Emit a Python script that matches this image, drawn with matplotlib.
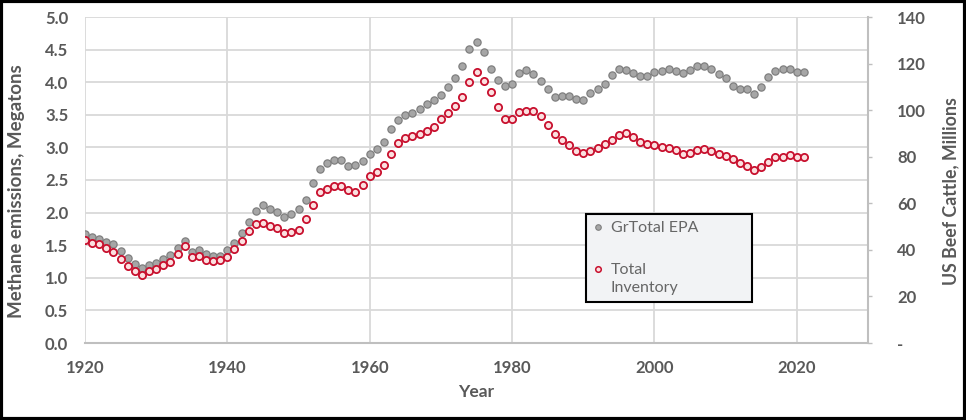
import matplotlib
matplotlib.use("Agg")
import numpy as np
import matplotlib.pyplot as plt
from matplotlib.lines import Line2D
from matplotlib.patches import Rectangle
from matplotlib.ticker import FixedLocator, FixedFormatter
from matplotlib.legend_handler import HandlerLine2D

years = list(range(1920, 2022))

epa_methane = [
    1.67, 1.62, 1.59, 1.55, 1.52, 1.41, 1.30, 1.21, 1.15, 1.19,
    1.22, 1.29, 1.35, 1.45, 1.57, 1.40, 1.42, 1.37, 1.33, 1.33,
    1.42, 1.54, 1.68, 1.86, 2.03, 2.11, 2.05, 2.01, 1.94, 1.98,
    2.06, 2.20, 2.46, 2.67, 2.76, 2.81, 2.81, 2.71, 2.73, 2.79,
    2.90, 2.98, 3.08, 3.28, 3.42, 3.49, 3.52, 3.59, 3.66, 3.72,
    3.80, 3.93, 4.06, 4.25, 4.51, 4.62, 4.46, 4.21, 4.03, 3.94,
    3.98, 4.14, 4.18, 4.12, 4.02, 3.89, 3.78, 3.79, 3.79, 3.74,
    3.73, 3.83, 3.89, 3.97, 4.11, 4.20, 4.18, 4.14, 4.10, 4.10,
    4.16, 4.17, 4.20, 4.17, 4.14, 4.19, 4.25, 4.25, 4.20, 4.12,
    4.07, 3.94, 3.89, 3.89, 3.82, 3.92, 4.08, 4.17, 4.20, 4.21,
    4.15, 4.15,
]

cattle_inventory = [
    44.2, 42.8, 42.5, 40.7, 38.9, 35.9, 33.1, 30.8, 29.3, 30.8,
    31.9, 33.4, 34.9, 38.2, 41.7, 36.8, 37.2, 35.6, 35.1, 35.5,
    37.1, 40.2, 43.9, 48.1, 51.2, 51.7, 50.2, 49.2, 47.1, 47.7,
    48.7, 53.4, 59.3, 64.8, 66.0, 67.3, 67.4, 65.7, 65.0, 67.9,
    71.7, 73.3, 76.4, 81.3, 85.8, 87.9, 88.9, 89.8, 91.2, 92.6,
    96.2, 98.6, 101.9, 105.8, 112.2, 116.5, 112.7, 107.8, 101.4, 96.1,
    96.3, 99.2, 99.8, 99.5, 97.6, 93.8, 89.6, 87.3, 85.0, 82.3,
    81.7, 82.3, 83.7, 85.5, 87.3, 89.2, 90.2, 88.3, 86.5, 85.5,
    85.0, 84.0, 83.6, 82.7, 81.3, 81.7, 82.9, 83.5, 82.5, 81.0,
    80.3, 79.2, 77.4, 76.2, 74.3, 75.4, 77.9, 79.7, 80.0, 80.9,
    79.7, 79.7,
]

x_ticks = [1920, 1940, 1960, 1980, 2000, 2020]
left_ticks = [0.0, 0.5, 1.0, 1.5, 2.0, 2.5, 3.0, 3.5, 4.0, 4.5, 5.0]
right_ticks = [0, 20, 40, 60, 80, 100, 120, 140]
right_labels = ["-", "20", "40", "60", "80", "100", "120", "140"]

TXT = "#595959"
GRID = "#d9d9d9"
FONT = ["Lato", "DejaVu Sans"]

fig = plt.figure(figsize=(9.66, 4.2), dpi=100)
ax = fig.add_axes([85 / 966, 1 - 343 / 420, (868 - 85) / 966, (343 - 17) / 420])

ax.set_xlim(1920, 2030)
ax.set_ylim(0, 5)
ax.xaxis.set_major_locator(FixedLocator(x_ticks))
ax.yaxis.set_major_locator(FixedLocator(left_ticks))
ax.set_yticklabels([f"{v:.1f}" for v in left_ticks])
ax.grid(True, color=GRID, linewidth=1.3)
ax.set_axisbelow(True)
for s in ["top", "right", "left"]:
    ax.spines[s].set_visible(False)
ax.spines["bottom"].set_color("#bfbfbf")
ax.spines["bottom"].set_linewidth(1.5)
ax.tick_params(axis="both", length=0, labelsize=12, labelcolor=TXT)
ax.tick_params(axis="y", pad=12)
ax.tick_params(axis="x", pad=12)
for lab in ax.get_xticklabels() + ax.get_yticklabels():
    lab.set_fontfamily(FONT)
    lab.set_fontweight("bold")

ax.set_xlabel("Year", fontsize=12.5, fontweight="bold", color=TXT, family=FONT, labelpad=6)
ax.set_ylabel("Methane emissions, Megatons", fontsize=13.5, fontweight="bold", color=TXT,
              family=FONT)
ax.yaxis.set_label_coords((25 - 85) / 783, (343 - 191) / 326)

ax.plot(years, epa_methane, linestyle="none", marker="o", markersize=5.2,
        markerfacecolor="#a6a6a6", markeredgecolor="#7f7f7f", markeredgewidth=0.9,
        zorder=3)

ax2 = ax.twinx()
ax2.set_ylim(0, 140)
ax2.yaxis.set_major_locator(FixedLocator(right_ticks))
ax2.yaxis.set_major_formatter(FixedFormatter(right_labels))
for s in ["top", "left", "bottom"]:
    ax2.spines[s].set_visible(False)
ax2.spines["right"].set_color("#bfbfbf")
ax2.spines["right"].set_linewidth(1.5)
ax2.tick_params(axis="y", length=3, width=1, color="#bfbfbf", labelsize=12,
                labelcolor=TXT, pad=18)
for lab in ax2.get_yticklabels():
    lab.set_fontfamily(FONT)
    lab.set_fontweight("bold")
ax2.set_ylabel("US Beef Cattle, Millions", fontsize=12.8, fontweight="bold", color=TXT,
               family=FONT)
ax2.yaxis.set_label_coords((942 - 85) / 783, (343 - 191) / 326)

ax2.plot(years, cattle_inventory, linestyle="none", marker="o", markersize=5.2,
         markerfacecolor="#fbe0e0", markeredgecolor="#c8102e", markeredgewidth=1.3,
         zorder=4)


class TopAlignedHandler(HandlerLine2D):
    def __init__(self, shift, **kw):
        super().__init__(**kw)
        self.shift = shift

    def create_artists(self, legend, orig_handle, xdescent, ydescent, width, height,
                       fontsize, trans):
        arts = super().create_artists(legend, orig_handle, xdescent, ydescent, width,
                                      height, fontsize, trans)
        for a in arts:
            a.set_ydata(np.asarray(a.get_ydata(), dtype=float) + self.shift)
        return arts


h_gray = Line2D([], [], linestyle="none", marker="o", markersize=4,
                markerfacecolor="#a6a6a6", markeredgecolor="#7f7f7f", markeredgewidth=0.8)
h_red = Line2D([], [], linestyle="none", marker="o", markersize=4,
               markerfacecolor="#fbe0e0", markeredgecolor="#c8102e", markeredgewidth=1.1)
LEG_FS = 11.5
leg = fig.legend([h_gray, h_red], ["GrTotal EPA", "Total\nInventory"],
                 loc="upper left",
                 bbox_to_anchor=(586 / 966, 1 - 214 / 420 - 0.01, (752 - 586) / 966, 0.01),
                 mode="expand", frameon=True, fancybox=False, framealpha=1,
                 facecolor="#f2f3f5", edgecolor="black", labelspacing=1.75,
                 handlelength=0.6, handletextpad=0.5, borderpad=0.45,
                 borderaxespad=0, prop={"family": FONT, "size": LEG_FS},
                 labelcolor="#666666",
                 handler_map={h_red: TopAlignedHandler(shift=LEG_FS * 0.62)})
leg.get_frame().set_linewidth(1.5)
leg.get_texts()[1].set_linespacing(1.3)
leg.set_zorder(10)

fig.patches.append(Rectangle((0.0015, 0.003), 0.997, 0.994, transform=fig.transFigure,
                             fill=False, edgecolor="black", linewidth=3))

fig.savefig("out.png", dpi=100)
